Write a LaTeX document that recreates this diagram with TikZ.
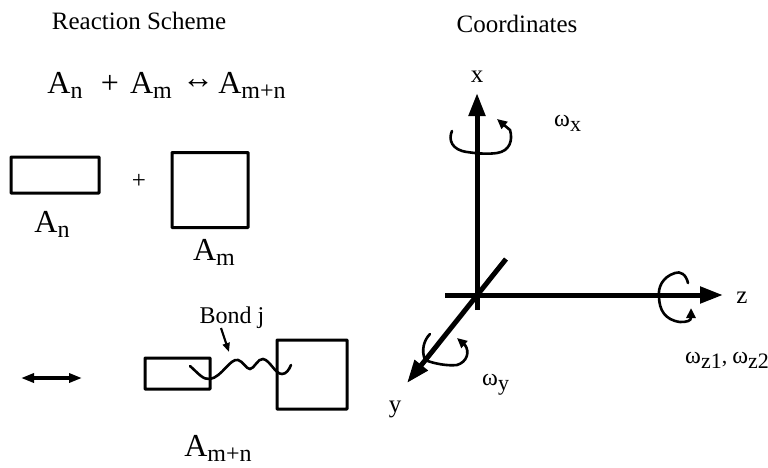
\documentclass[tikz,border=0pt]{standalone}
\usepackage{fontspec}
\setmainfont{Liberation Serif}
\usetikzlibrary{arrows.meta}

% big letter with a lowered index
\newcommand{\chem}[2]{{\fontsize{32}{34}\selectfont A\raisebox{-5pt}{\fontsize{24}{26}\selectfont #2}}}
\newcommand{\rate}[1]{{\fontsize{24}{26}\selectfont ω\raisebox{-5pt}{\fontsize{22}{24}\selectfont #1}}}

\begin{document}
\begin{tikzpicture}[
  x=1pt, y=-1pt,
  txt/.style={inner sep=0pt, anchor=base},
  lbl/.style={txt, font=\fontsize{25}{27}\selectfont},
  box/.style={draw, line width=3pt, rectangle, inner sep=0pt, rounded corners=0.5pt},
  axis/.style={-{Triangle[length=23pt,width=16pt]}, line width=5pt},
  spin/.style={-{Triangle[length=10pt,width=9pt]}, line width=2.6pt, line cap=round},
  bond/.style={line width=2.6pt, line cap=round},
  tick/.style={-{Triangle[length=9pt,width=7pt]}, line width=2.2pt},
  eqarr/.style={{Triangle[length=13pt,width=9pt]}-{Triangle[length=13pt,width=9pt]}, line width=3.5pt},
]
  \useasboundingbox (0,0) rectangle (768,467);

  % --- Titles ---
  \node[lbl] (titleL) at (139,29) {Reaction Scheme};
  \node[lbl] (titleR) at (517,32) {Coordinates};

  % --- Reaction line ---
  \node[txt] (eqAn) at (65,93) {\chem{A}{n}};
  \node[lbl, font=\fontsize{32}{34}\selectfont] (eqPlus) at (110,93) {+};
  \node[txt] (eqAm) at (151,93) {\chem{A}{m}};
  \node[lbl, font=\fontsize{32}{34}\selectfont] (eqArr) at (198,88) {↔};
  \node[txt] (eqAmn) at (252,93) {\chem{A}{m+n}};

  % --- Separate blocks ---
  \node[box, minimum width=88pt, minimum height=36pt] (boxN) at (55,175) {};
  \node[box, minimum width=76pt, minimum height=75pt] (boxM) at (210,190) {};
  \node[lbl] (plusB) at (139,188) {+};
  \node[txt] (labN) at (52,232) {\chem{A}{n}};
  \node[txt] (labM) at (214,260) {\chem{A}{m}};

  % --- Bonded blocks ---
  \coordinate (eqL) at (21,378);
  \coordinate (eqR) at (82,378);
  \draw[eqarr] (eqL) -- (eqR);

  \node[box, minimum width=65pt, minimum height=31pt] (boxNb) at (177.5,373.5) {};
  \node[box, minimum width=70pt, minimum height=69pt] (boxMb) at (312,374.5) {};
  \draw[bond] (190,366) .. controls (198,373) and (203,380) .. (210,379)
    .. controls (222,377) and (230,358) .. (238,360)
    .. controls (243,361) and (246,369) .. (250,369)
    .. controls (254,369) and (258,358) .. (263,359)
    .. controls (270,360) and (275,374) .. (282,374)
    .. controls (286,374) and (289,370) .. (291,365);

  \node[txt, font=\fontsize{24}{26}\selectfont] (labBond) at (232,323) {Bond j};
  \coordinate (bondTip) at (229,352);
  \draw[tick] (221,328) -- (bondTip);
  \node[txt] (labMN) at (218,456) {\chem{A}{m+n}};

  % --- Axes ---
  \coordinate (xS) at (477,310);
  \coordinate (xE) at (477,93);
  \coordinate (zS) at (445,295);
  \coordinate (zE) at (723,295);
  \coordinate (yS) at (506,259);
  \coordinate (yE) at (407,383);
  \draw[axis] (xS) -- (xE);
  \draw[axis] (zS) -- (zE);
  \draw[axis] (yS) -- (yE);
  \node[lbl] (labX) at (477,82) {x};
  \node[lbl] (labZ) at (742,303) {z};
  \node[lbl] (labY) at (395,412) {y};

  % --- Spin arrows ---
  \draw[spin] (452,131) .. controls (448,140) and (452,150) .. (467,152)
    .. controls (480,154) and (490,154) .. (497,153)
    .. controls (510,151) and (513,140) .. (510,130) -- (497,119);
  \draw[spin] (688,283) .. controls (686,274) and (680,271) .. (675,273)
    .. controls (662,277) and (658,288) .. (659,296)
    .. controls (659,310) and (665,320) .. (680,322)
    .. controls (687,322) and (691,321) .. (691,308);
  \draw[spin] (430,334) .. controls (424,340) and (421,350) .. (425,360)
    .. controls (435,364) and (448,366) .. (457,365)
    .. controls (467,362) and (470,352) .. (465,345) -- (457,338);

  % --- Rates ---
  \node[txt, anchor=base west] (rateX) at (554,126) {\rate{x}};
  \node[txt, anchor=base west] (rateY) at (482,385) {\rate{y}};
  \node[txt, anchor=base west] (rateZ) at (685,363) {\rate{z1}{\fontsize{22}{24}\selectfont,}\hspace{5pt}\rate{z2}};
\end{tikzpicture}
\end{document}
